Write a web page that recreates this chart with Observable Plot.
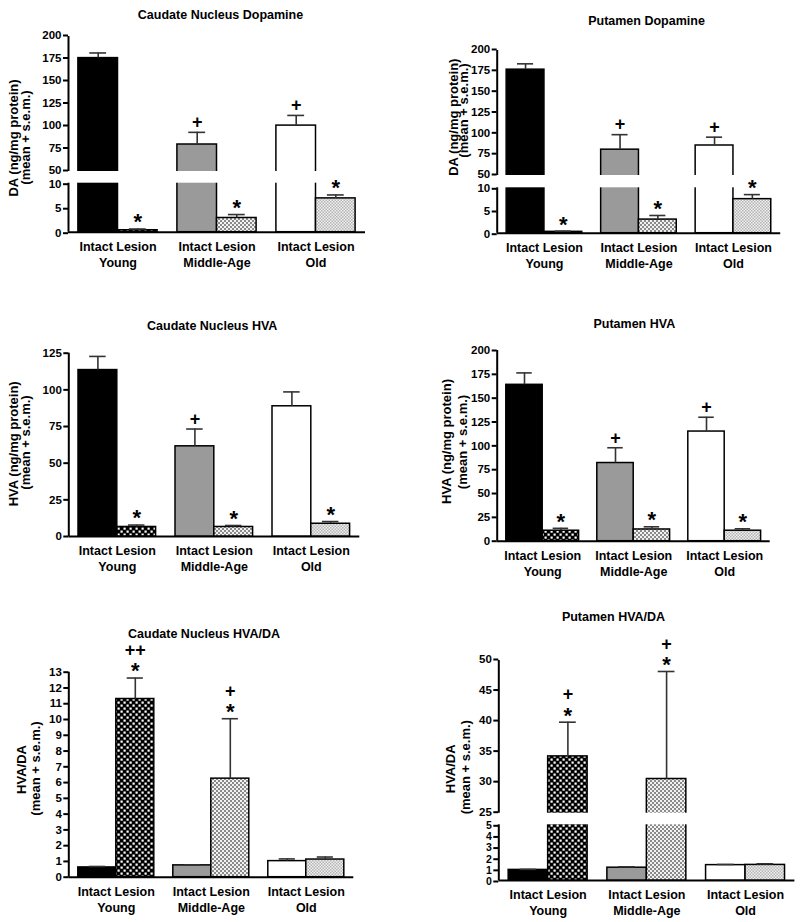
<!DOCTYPE html>
<html>
<head>
<meta charset="utf-8">
<script src="https://cdn.jsdelivr.net/npm/d3@7"></script>
<script src="https://cdn.jsdelivr.net/npm/@observablehq/plot@0.6"></script>
<style>
  html, body { margin: 0; padding: 0; background: #fff; }
  #fig { position: relative; width: 800px; height: 922px; overflow: hidden; background: #fff; }
</style>
</head>
<body>
<svg width="0" height="0" style="position:absolute">
  <defs>
    <pattern id="pYoung" width="6" height="6" patternUnits="userSpaceOnUse">
      <rect width="6" height="6" fill="#000"/>
      <rect x="0.5" y="0.5" width="2.2" height="2.2" fill="#fff"/>
      <rect x="3.5" y="3.5" width="2.2" height="2.2" fill="#fff"/>
    </pattern>
    <pattern id="pMid" width="4" height="4" patternUnits="userSpaceOnUse">
      <rect width="4" height="4" fill="#f2f2f2"/>
      <rect x="0" y="0" width="2" height="2" fill="#8a8a8a"/>
      <rect x="2" y="2" width="2" height="2" fill="#8a8a8a"/>
    </pattern>
    <pattern id="pOld" width="3" height="3" patternUnits="userSpaceOnUse">
      <rect width="3" height="3" fill="#f0f0f0"/>
      <rect x="0" y="0" width="1.5" height="1.5" fill="#b4b4b4"/>
      <rect x="1.5" y="1.5" width="1.5" height="1.5" fill="#b4b4b4"/>
    </pattern>
  </defs>
</svg>
<div id="fig"></div>
<script>
// ---------------- DATA ----------------
const groups = ["Young", "Middle-Age", "Old"];
const conditions = ["Intact", "Lesion"];

// Caudate Nucleus Dopamine (ng/mg protein)
const caudateDA_intact = [176, 80, 101];
const caudateDA_intactSem = [5.7, 13.5, 11.3];
const caudateDA_lesion = [0.4, 2.9, 6.9];
const caudateDA_lesionSem = [0.25, 0.7, 0.7];
const caudateDA_ticks = [0, 5, 10, 50, 75, 100, 125, 150, 175, 200];
const caudateDA_sig = [["Young", "Lesion", "*"], ["Middle-Age", "Intact", "+"], ["Middle-Age", "Lesion", "*"], ["Old", "Intact", "+"], ["Old", "Lesion", "*"]];

// Putamen Dopamine
const putamenDA_intact = [177, 81, 86];
const putamenDA_intactSem = [7, 18, 10];
const putamenDA_lesion = [0.3, 3.0, 7.5];
const putamenDA_lesionSem = [0.15, 0.9, 1.0];
const putamenDA_ticks = [0, 5, 10, 50, 75, 100, 125, 150, 175, 200];
const putamenDA_sig = [["Young", "Lesion", "*"], ["Middle-Age", "Intact", "+"], ["Middle-Age", "Lesion", "*"], ["Old", "Intact", "+"], ["Old", "Lesion", "*"]];

// Caudate Nucleus HVA
const caudateHVA_intact = [113.5, 61.5, 88.8];
const caudateHVA_intactSem = [9.3, 11.8, 9.8];
const caudateHVA_lesion = [6.5, 6.5, 8.7];
const caudateHVA_lesionSem = [1.3, 1.0, 1.5];
const caudateHVA_ticks = [0, 25, 50, 75, 100, 125];
const caudateHVA_sig = [["Young", "Lesion", "*"], ["Middle-Age", "Intact", "+"], ["Middle-Age", "Lesion", "*"], ["Old", "Lesion", "*"]];

// Putamen HVA
const putamenHVA_intact = [164, 82, 115];
const putamenHVA_intactSem = [12.5, 16, 15];
const putamenHVA_lesion = [11, 12.3, 11];
const putamenHVA_lesionSem = [2.5, 2.8, 2];
const putamenHVA_ticks = [0, 25, 50, 75, 100, 125, 150, 175, 200];
const putamenHVA_sig = [["Young", "Lesion", "*"], ["Middle-Age", "Intact", "+"], ["Middle-Age", "Lesion", "*"], ["Old", "Intact", "+"], ["Old", "Lesion", "*"]];

// Caudate Nucleus HVA/DA
const caudateRatio_intact = [0.62, 0.75, 1.02];
const caudateRatio_intactSem = [0.06, 0.03, 0.14];
const caudateRatio_lesion = [11.3, 6.25, 1.12];
const caudateRatio_lesionSem = [1.33, 3.8, 0.16];
const caudateRatio_ticks = [0, 1, 2, 3, 4, 5, 6, 7, 8, 9, 10, 11, 12, 13];
const caudateRatio_sig = [["Young", "Lesion", "++\n*"], ["Middle-Age", "Lesion", "+\n*"]];

// Putamen HVA/DA
const putamenRatio_intact = [0.95, 1.15, 1.38];
const putamenRatio_intactSem = [0.05, 0.08, 0.06];
const putamenRatio_lesion = [34.3, 30.6, 1.4];
const putamenRatio_lesionSem = [5.6, 17.6, 0.1];
const putamenRatio_ticks = [0, 1, 2, 3, 4, 5, 25, 30, 35, 40, 45, 50];
const putamenRatio_sig = [["Young", "Lesion", "+\n*"], ["Middle-Age", "Lesion", "+\n*"]];

// ---------------- STYLE / LAYOUT ----------------
const fills = {
  Intact: {"Young": "#000000", "Middle-Age": "#9a9a9a", "Old": "#ffffff"},
  Lesion: {"Young": "url(#pYoung)", "Middle-Age": "url(#pMid)", "Old": "url(#pOld)"}
};
const FONT = "'Liberation Sans', Arial, Helvetica, sans-serif";

function makePanel(p, L) {
  const rows = [];
  groups.forEach((g, gi) => conditions.forEach((c, ci) => {
    const mean = (ci ? p.lesion : p.intact)[gi];
    const sem = (ci ? p.lesionSem : p.intactSem)[gi];
    rows.push({group: g, condition: c, gi, ci, mean, top: mean + sem, fill: fills[c][g]});
  }));
  // (possibly broken) value axis: piecewise d3 scale feeding Plot's linear y scale
  const ys = d3.scaleLinear().domain(p.domain).range(L.y);
  const BW = 0.4, CAP = 0.085;
  const cx = d => d.gi + 0.5 + (d.ci - 0.5) * BW;
  const ann = [];
  p.sig.forEach(([g, c, txt]) => {
    const r = rows.find(d => d.group === g && d.condition === c);
    txt.split("\n").reverse().forEach((s, k) => ann.push({...r, sym: s, k}));
  });
  const W = 400, H = L.h;
  const ml = L.x[0], mr = W - L.x[1];
  const yBottom = L.y[0], yTop = L.y[L.y.length - 1];
  const mt = yTop, mb = H - yBottom;
  const ymax = p.domain[p.domain.length - 1];

  const marks = [
    Plot.ruleX([0], {y1: ys(0), y2: ys(ymax), stroke: "#000", strokeWidth: 2}),
    Plot.ruleY([ys(0)], {x1: 0, x2: 3, stroke: "#000", strokeWidth: 2}),
    Plot.rect(rows, {x1: d => d.gi + 0.5 + (d.ci - 1) * BW, x2: d => d.gi + 0.5 + d.ci * BW,
      y1: ys(0), y2: d => ys(d.mean), fill: "fill", stroke: "#000", strokeWidth: 1.5}),
    Plot.ruleX(rows, {x: cx, y1: d => ys(d.mean), y2: d => ys(d.top), stroke: "#333", strokeWidth: 1.6}),
    Plot.ruleY(rows, {y: d => ys(d.top), x1: d => cx(d) - CAP, x2: d => cx(d) + CAP, stroke: "#333", strokeWidth: 1.6})
  ];
  // axis tick groups (split at the break, if any)
  let axes;
  if (p.brk) {
    marks.push(Plot.rect([p.brk], {x1: -0.03, x2: 3.05, y1: d => ys(d[0]), y2: d => ys(d[1]), fill: "#fff"}));
    axes = [
      {ticks: p.ticks.filter(v => v <= p.brk[0]), fontSize: p.lowFont || 11.5, dy: 1},
      {ticks: p.ticks.filter(v => v >= p.brk[1]), fontSize: 11.5, dy: -1}
    ];
  } else {
    axes = [{ticks: p.ticks, fontSize: 11.5, dy: 0}];
  }
  for (const t of axes) {
    const label = new Map(t.ticks.map(v => [ys(v), String(v)]));
    marks.push(Plot.axisY(t.ticks.map(v => ys(v)), {tickSize: 5, tickPadding: 2, strokeWidth: 2,
      fontSize: t.fontSize, dy: t.dy, label: null, tickFormat: u => label.get(u)}));
  }
  // significance markers
  marks.push(Plot.text(ann.filter(d => d.sym === "*"), {x: cx, y: d => ys(d.top), text: "sym",
    fontSize: 22, fontWeight: "bold", dy: -12 + 5.3, lineAnchor: "middle"}));
  marks.push(Plot.text(ann.filter(d => d.sym !== "*" && d.k === 0), {x: cx, y: d => ys(d.top), text: "sym",
    fontSize: 18, fontWeight: "bold", dy: -10, lineAnchor: "middle"}));
  marks.push(Plot.text(ann.filter(d => d.sym !== "*" && d.k === 1), {x: cx, y: d => ys(d.top), text: "sym",
    fontSize: 18, fontWeight: "bold", dy: -27.5, lineAnchor: "middle"}));
  // category labels
  marks.push(Plot.text(groups, {x: (d, i) => i + 0.5, frameAnchor: "bottom", dy: 14.5,
    text: () => conditions.join(" "), fontSize: 12.5, lineAnchor: "middle"}));
  marks.push(Plot.text(groups, {x: (d, i) => i + 0.5, frameAnchor: "bottom", dy: 30.5,
    text: d => d, fontSize: 12.5, lineAnchor: "middle"}));
  // title
  marks.push(Plot.text([p.title], {frameAnchor: "top-left", dx: L.title[0] - ml, dy: L.title[1] - mt,
    textAnchor: "middle", lineAnchor: "middle", fontSize: 12.5}));
  // y labels
  p.ylab.forEach((s, i) => {
    marks.push(Plot.text([s], {frameAnchor: "top-left", dx: L.yl[i][0] - ml, dy: L.yl[i][1] - mt,
      rotate: -90, textAnchor: "middle", lineAnchor: "middle", fontSize: 13}));
  });

  const svg = Plot.plot({
    width: W, height: H,
    marginLeft: ml, marginRight: mr, marginTop: mt, marginBottom: mb,
    x: {domain: [0, 3], range: L.x, axis: null},
    y: {domain: [yBottom, yTop], range: [yBottom, yTop]},
    color: {type: "identity"},
    style: {fontFamily: FONT, fontWeight: "bold", fontSize: "12px", color: "#000", background: "transparent", overflow: "visible"},
    marks
  });
  svg.style.position = "absolute";
  svg.style.left = L.left + "px";
  svg.style.top = L.top + "px";
  document.getElementById("fig").appendChild(svg);
}

makePanel({
  title: "Caudate Nucleus Dopamine", ylab: ["DA (ng/mg protein)", "(mean + s.e.m.)"],
  intact: caudateDA_intact, intactSem: caudateDA_intactSem, lesion: caudateDA_lesion, lesionSem: caudateDA_lesionSem,
  domain: [0, 10, 50, 200], brk: [10, 50], sig: caudateDA_sig, ticks: caudateDA_ticks
}, {left: 0, top: 0, h: 290, x: [68, 365], y: [231.7, 182.7, 171, 36],
    title: [220, 14], yl: [[13.7, 137.5], [25.3, 137]]});

makePanel({
  title: "Putamen Dopamine", ylab: ["DA (ng/mg protein)", "(mean + s.e.m.)"],
  intact: putamenDA_intact, intactSem: putamenDA_intactSem, lesion: putamenDA_lesion, lesionSem: putamenDA_lesionSem,
  domain: [0, 10, 50, 200], brk: [10, 50], sig: putamenDA_sig, ticks: putamenDA_ticks
}, {left: 400, top: 0, h: 290, x: [96.7, 380.2], y: [232.7, 187.3, 175, 50],
    title: [246, 20], yl: [[53.3, 116.7], [63.7, 110]]});

makePanel({
  title: "Caudate Nucleus HVA", ylab: ["HVA (ng/mg protein)", "(mean + s.e.m.)"],
  intact: caudateHVA_intact, intactSem: caudateHVA_intactSem, lesion: caudateHVA_lesion, lesionSem: caudateHVA_lesionSem,
  domain: [0, 125], sig: caudateHVA_sig, ticks: caudateHVA_ticks
}, {left: 0, top: 290, h: 300, x: [68.3, 359.3], y: [246, 62.7],
    title: [211.7, 35], yl: [[13.3, 153.3], [25.7, 152]]});

makePanel({
  title: "Putamen HVA", ylab: ["HVA (ng/mg protein)", "(mean + s.e.m.)"],
  intact: putamenHVA_intact, intactSem: putamenHVA_intactSem, lesion: putamenHVA_lesion, lesionSem: putamenHVA_lesionSem,
  domain: [0, 200], sig: putamenHVA_sig, ticks: putamenHVA_ticks
}, {left: 400, top: 290, h: 300, x: [96.7, 369.7], y: [250.7, 60],
    title: [233.8, 33.3], yl: [[46.7, 151], [62, 151.5]]});

makePanel({
  title: "Caudate Nucleus HVA/DA", ylab: ["HVA/DA", "(mean + s.e.m.)"],
  intact: caudateRatio_intact, intactSem: caudateRatio_intactSem, lesion: caudateRatio_lesion, lesionSem: caudateRatio_lesionSem,
  domain: [0, 13], sig: caudateRatio_sig, ticks: caudateRatio_ticks
}, {left: 0, top: 590, h: 332, x: [68.3, 353.3], y: [286.7, 81.7],
    title: [203.5, 43.3], yl: [[21.7, 179], [35, 178]]});

makePanel({
  title: "Putamen HVA/DA", ylab: ["HVA/DA", "(mean + s.e.m.)"],
  intact: putamenRatio_intact, intactSem: putamenRatio_intactSem, lesion: putamenRatio_lesion, lesionSem: putamenRatio_lesionSem,
  domain: [0, 5, 25, 50], brk: [5, 25], sig: putamenRatio_sig, ticks: putamenRatio_ticks, lowFont: 10.5
}, {left: 400, top: 590, h: 332, x: [98.3, 394.4], y: [290, 234.3, 222.7, 70],
    title: [213, 26.7], yl: [[50, 178.3], [65, 176.7]]});
</script>
</body>
</html>
